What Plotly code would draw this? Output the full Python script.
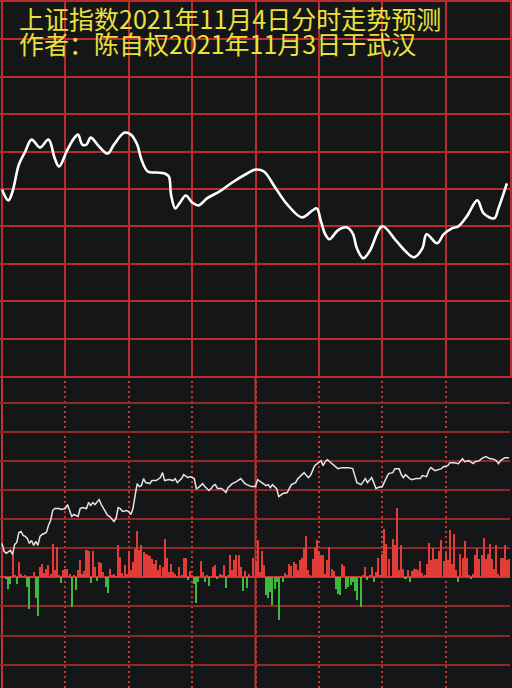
import plotly.graph_objects as go

# ---------------- data ----------------
title_line1 = "上证指数2021年11月4日分时走势预测"
title_line2 = "作者：陈自权2021年11月3日于武汉"

# top panel: forecast curve (minute index, level)
top_minutes = [0, 3, 5, 8, 11, 14, 18, 22, 25, 27, 31, 34, 36, 38, 40, 42, 46, 50, 53, 58,
               61, 64, 66, 69, 73, 77, 79, 80, 82, 84, 87, 90, 93, 97, 103, 109, 116, 120, 124, 129,
               135, 142, 147, 149, 151, 153, 155, 159, 163, 166, 168, 171, 174, 180, 186, 191, 195, 199, 201, 206,
               209, 213, 216, 220, 225, 228, 233, 235, 239]
top_values = [187, 176, 185, 212, 225, 237, 229, 237, 218, 210, 227, 238, 242, 232, 232, 239, 230, 223, 232, 244,
              242, 232, 217, 205, 204, 203, 200, 182, 168, 173, 181, 174, 171, 178, 185, 194, 203, 207, 205, 190,
              172, 159, 166, 168, 155, 142, 137, 146, 149, 143, 128, 118, 125, 150, 137, 125, 119, 128, 142, 133,
              142, 148, 150, 160, 176, 163, 158, 168, 193]

# bottom panel: intraday line (minute index, level)
line_minutes = [0, 1, 2, 4, 5, 6, 7, 8, 9, 10, 11, 12, 13, 14, 15, 16, 17, 18, 19, 21,
                22, 23, 24, 25, 27, 28, 30, 31, 32, 33, 34, 36, 37, 38, 40, 41, 42, 43, 44, 45,
                46, 47, 49, 50, 51, 53, 54, 55, 56, 57, 59, 60, 61, 62, 63, 64, 65, 66, 67, 68,
                70, 71, 73, 74, 75, 76, 77, 79, 81, 82, 83, 85, 86, 88, 89, 91, 92, 93, 95, 96,
                98, 99, 100, 101, 102, 104, 106, 107, 109, 111, 113, 115, 116, 118, 120, 121, 123, 125, 126, 127,
                128, 130, 131, 133, 135, 136, 137, 139, 140, 142, 143, 145, 146, 148, 150, 151, 152, 153, 154, 156,
                157, 159, 161, 164, 166, 167, 168, 170, 172, 173, 175, 176, 177, 178, 180, 182, 183, 185, 186, 188,
                189, 190, 191, 193, 194, 196, 198, 199, 201, 202, 203, 205, 207, 208, 209, 211, 212, 214, 216, 218,
                219, 221, 223, 224, 226, 227, 229, 231, 232, 234, 235, 236, 238, 240]
line_values = [34, 26, 24, 27, 23, 33, 35, 45, 46, 42, 41, 39, 34, 37, 32, 36, 32, 41, 43, 45,
               52, 57, 67, 69, 69, 68, 69, 73, 67, 61, 63, 61, 69, 70, 69, 75, 72, 75, 73, 75,
               78, 73, 65, 62, 61, 56, 59, 70, 69, 66, 67, 66, 63, 69, 82, 94, 91, 92, 99, 95,
               94, 97, 97, 99, 100, 105, 97, 98, 97, 99, 95, 99, 103, 100, 101, 99, 89, 90, 94, 91,
               87, 89, 92, 93, 89, 89, 85, 90, 94, 96, 99, 94, 93, 91, 91, 98, 95, 92, 93, 90,
               93, 89, 81, 84, 85, 89, 93, 95, 99, 103, 105, 100, 102, 112, 115, 117, 112, 116, 118, 114,
               113, 109, 110, 110, 109, 102, 95, 93, 99, 95, 100, 95, 89, 90, 91, 100, 104, 105, 109, 109,
               103, 100, 103, 99, 98, 99, 99, 102, 101, 107, 110, 107, 108, 109, 111, 112, 115, 115, 114, 119,
               116, 117, 114, 116, 117, 119, 121, 119, 119, 117, 114, 117, 120, 120]

# bottom panel: per-minute flow bars (minute 0..240)
flow = [2, 1, -2, -12, -7, 23, 2, -7, 15, 3, 1, 2, -10, -32, 1, 5, -21, -39, 10, 13,
        4, 8, 12, 3, 33, 7, 30, 2, -6, 7, 8, 8, 3, -30, 2, -13, 7, 17, 3, 6,
        27, 26, -6, 26, 10, -4, 15, 14, 5, -10, -16, 8, 2, 3, 1, 32, 20, 4, 12, 3,
        26, 7, 15, 28, 46, 27, 32, 25, 23, 22, 21, 18, 13, 17, 7, 12, 10, 38, 19, 5,
        13, 5, 3, 1, 10, 2, 19, 19, -3, 6, 2, -7, -26, -5, 16, 5, -5, 2, -9, 1,
        10, 12, -2, 3, 2, 12, -11, 2, 22, 7, 17, 22, 22, 10, -14, 6, -11, 3, 1, 19,
        15, 37, 5, 26, 12, -18, -21, -15, -28, -12, -5, -43, 1, -5, 4, 2, 13, 11, 15, 13,
        7, 17, 19, 29, 41, 7, 2, 18, 30, 37, 25, 22, 22, 3, 17, 30, 8, 6, -12, -17,
        -18, 13, 11, -12, -10, -8, -5, -14, -23, 1, -30, 2, 10, -3, 2, 10, -5, 5, 19, 2,
        23, 48, 33, 18, 1, 38, 32, 70, 7, 32, 8, -2, 7, -5, 6, 8, 8, 7, 16, 4,
        2, 13, 34, 17, 29, 18, 18, 26, 37, 16, 25, 17, 47, 13, 43, 7, -5, 23, 19, 36,
        19, 2, -2, 3, 22, 29, 18, 22, 39, 18, 23, 33, 18, 8, 32, 3, 19, 19, 32, 17,
        18]
flow_minutes = list(range(len(flow)))

# ---------------- style ----------------
BG = "#151618"
GRID_TOP = "#bb2a2c"
GRID_BOT = "#922828"
UP = "#e23c38"
DOWN = "#3fb83f"
TEXT = "#ebe13c"

bar_colors = [UP if v >= 0 else DOWN for v in flow]

fig = go.Figure()
fig.add_trace(go.Scatter(x=top_minutes, y=top_values, mode="lines",
                         line=dict(color="white", width=2.6, shape="spline", smoothing=1.0),
                         xaxis="x", yaxis="y", hoverinfo="skip"))
fig.add_trace(go.Bar(x=flow_minutes, y=flow, marker=dict(color=bar_colors, line=dict(width=0)),
                     width=0.95, xaxis="x2", yaxis="y2", hoverinfo="skip"))
fig.add_trace(go.Scatter(x=line_minutes, y=line_values, mode="lines",
                         line=dict(color="#e4e4e4", width=1.5),
                         xaxis="x2", yaxis="y2", hoverinfo="skip"))

split = 1 - 375 / 688
xr = [-0.943, 240.47]

fig.update_layout(
    width=512, height=688,
    margin=dict(l=0, r=0, t=0, b=0),
    paper_bgcolor=BG, plot_bgcolor=BG,
    showlegend=False,
    hovermode=False,
    bargap=0,
    xaxis=dict(domain=[0, 1], anchor="y", range=xr, tick0=0, dtick=30,
               showgrid=True, gridcolor=GRID_TOP, gridwidth=2,
               showticklabels=False, ticks="", zeroline=False,
               showline=True, mirror=True, linecolor=GRID_TOP, linewidth=2),
    yaxis=dict(domain=[split, 1], anchor="x", range=[0, 375], tick0=0, dtick=37.5,
               showgrid=True, gridcolor=GRID_TOP, gridwidth=2,
               showticklabels=False, ticks="", zeroline=False,
               showline=True, mirror=True, linecolor=GRID_TOP, linewidth=2),
    xaxis2=dict(domain=[0, 1], anchor="y2", range=xr, tick0=0, dtick=30,
                showgrid=True, gridcolor="#c03838", gridwidth=2, griddash="2px,3px",
                showticklabels=False, ticks="", zeroline=False, showline=False),
    yaxis2=dict(domain=[0, split], anchor="x2", range=[-111, 202], tick0=0, dtick=29.2,
                showgrid=True, gridcolor=GRID_BOT, gridwidth=2,
                showticklabels=False, ticks="",
                zeroline=True, zerolinecolor="#d03030", zerolinewidth=2, showline=False),
    shapes=[
        dict(type="line", xref="x2", yref="y2 domain", x0=0, x1=0, y0=0, y1=1,
             line=dict(color="#b83030", width=2), layer="below"),
        dict(type="line", xref="x2", yref="y2 domain", x0=120, x1=120, y0=0, y1=1,
             line=dict(color="#b83030", width=2), layer="below"),
    ],
    annotations=[
        dict(text=title_line1, xref="paper", yref="paper", x=17 / 512, y=1 - 16.5 / 688,
             xanchor="left", yanchor="middle", showarrow=False,
             font=dict(family="Noto Sans CJK SC", size=25, color=TEXT)),
        dict(text=title_line2, xref="paper", yref="paper", x=17 / 512, y=1 - 41 / 688,
             xanchor="left", yanchor="middle", showarrow=False,
             font=dict(family="Noto Sans CJK SC", size=25, color=TEXT)),
    ],
)

fig.write_html("out.html", config={"displayModeBar": False, "staticPlot": True},
               post_script="document.body.style.margin='0';document.body.style.padding='0';"
                           "document.documentElement.style.overflow='hidden';")
